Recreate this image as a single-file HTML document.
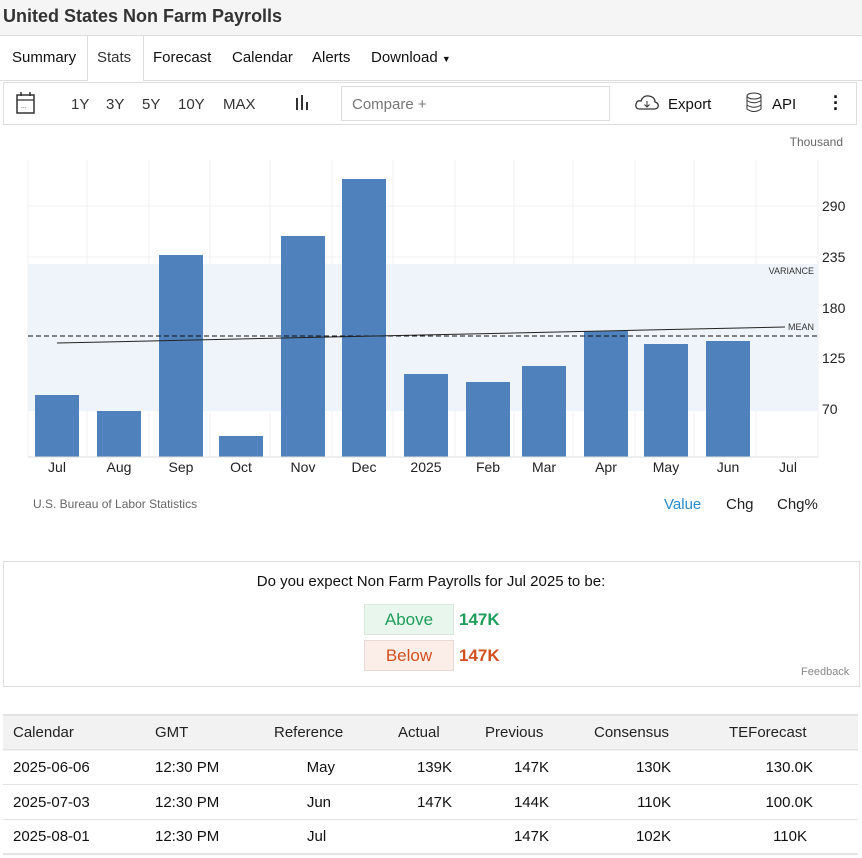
<!DOCTYPE html>
<html><head><meta charset="utf-8"><style>
body{margin:0;width:862px;height:858px;background:#fff;font-family:"Liberation Sans",Arial,sans-serif;color:#111;position:relative;overflow:hidden}
.a{position:absolute;white-space:nowrap}
.t{font-size:15px}
</style></head><body>
<div class="a" style="left:0;top:0;width:862px;height:35px;background:#f5f5f5"></div>
<div class="a" style="left:3px;top:6px;font-size:18px;font-weight:bold;color:#333">United States Non Farm Payrolls</div>
<div class="a" style="left:0;top:35px;width:862px;height:44px;border-top:1px solid #ddd;border-bottom:1px solid #ddd"></div>
<div class="a" style="left:87px;top:36px;width:55px;height:45px;border-left:1px solid #ddd;border-right:1px solid #ddd;background:#fff"></div>
<div class="a t" style="left:12px;top:49px">Summary</div>
<div class="a t" style="left:97px;top:49px;color:#333">Stats</div>
<div class="a t" style="left:153px;top:49px">Forecast</div>
<div class="a t" style="left:232px;top:49px">Calendar</div>
<div class="a t" style="left:312px;top:49px">Alerts</div>
<div class="a t" style="left:371px;top:49px">Download <span style="font-size:9px">▼</span></div>
<div class="a" style="left:3px;top:82px;width:852px;height:41px;border:1px solid #ddd"></div>
<svg class="a" style="left:15px;top:91px" width="22" height="24"><rect x="2" y="4" width="17" height="18" fill="none" stroke="#333" stroke-width="1.5"/><line x1="2" y1="9" x2="19" y2="9" stroke="#333" stroke-width="1.3"/><line x1="6" y1="1" x2="6" y2="5" stroke="#333" stroke-width="1.5"/><line x1="15" y1="1" x2="15" y2="5" stroke="#333" stroke-width="1.5"/><text x="6" y="17" font-size="6" fill="#333">...</text></svg>
<div class="a t" style="left:71px;top:96px;color:#333">1Y</div>
<div class="a t" style="left:106px;top:96px;color:#333">3Y</div>
<div class="a t" style="left:142px;top:96px;color:#333">5Y</div>
<div class="a t" style="left:178px;top:96px;color:#333">10Y</div>
<div class="a t" style="left:223px;top:96px;color:#333">MAX</div>
<svg class="a" style="left:294px;top:94px" width="16" height="18"><rect x="2" y="4" width="2" height="12" fill="#333"/><rect x="7" y="1" width="2" height="15" fill="#333"/><rect x="12" y="8" width="2" height="8" fill="#333"/></svg>
<div class="a" style="left:341px;top:86px;width:267px;height:33px;border:1px solid #ddd"></div>
<div class="a t" style="left:352px;top:96px;color:#777">Compare +</div>
<svg class="a" style="left:634px;top:93px" width="26" height="20"><path d="M6 16 Q1 16 2 11 Q3 7 7 8 Q9 2 15 3 Q21 4 21 9 Q25 10 24 14 Q23 16 20 16 Z" fill="none" stroke="#333" stroke-width="1.3"/><path d="M13 8 V14 M10.5 11.5 L13 14 L15.5 11.5" stroke="#333" fill="none"/></svg>
<div class="a t" style="left:668px;top:96px">Export</div>
<svg class="a" style="left:745px;top:92px" width="18" height="22"><ellipse cx="9" cy="4" rx="7" ry="3" fill="none" stroke="#333"/><path d="M2 4 V17 Q9 22 16 17 V4 M2 8.5 Q9 13 16 8.5 M2 13 Q9 17.5 16 13" fill="none" stroke="#333"/></svg>
<div class="a t" style="left:772px;top:96px">API</div>
<div class="a" style="left:833px;top:94px;font-size:18px;font-weight:bold;line-height:6px">·<br>·<br>·</div>

<svg class="a" style="left:0;top:128px" width="862" height="400" font-family="Liberation Sans, Arial, sans-serif">
<g transform="translate(0,-128)">
<text x="843" y="146" font-size="12" fill="#666" text-anchor="end">Thousand</text>
<g stroke="#f0f0f0" stroke-width="1">
<line x1="28" y1="160" x2="28" y2="457"/><line x1="87" y1="160" x2="87" y2="457"/><line x1="149" y1="160" x2="149" y2="457"/><line x1="210" y1="160" x2="210" y2="457"/><line x1="270" y1="160" x2="270" y2="457"/><line x1="332" y1="160" x2="332" y2="457"/><line x1="393" y1="160" x2="393" y2="457"/><line x1="455" y1="160" x2="455" y2="457"/><line x1="514" y1="160" x2="514" y2="457"/><line x1="573" y1="160" x2="573" y2="457"/><line x1="635" y1="160" x2="635" y2="457"/><line x1="694" y1="160" x2="694" y2="457"/><line x1="756" y1="160" x2="756" y2="457"/><line x1="818" y1="160" x2="818" y2="457"/>
<line x1="28" y1="206" x2="818" y2="206"/><line x1="28" y1="257" x2="818" y2="257"/><line x1="28" y1="308" x2="818" y2="308"/><line x1="28" y1="358" x2="818" y2="358"/><line x1="28" y1="409" x2="818" y2="409"/>
</g>
<rect x="28" y="264" width="790" height="147" fill="#eef4fa"/>
<g fill="#4f81bd">
<rect x="35" y="395" width="44" height="62"/><rect x="97" y="411" width="44" height="46"/><rect x="159" y="255" width="44" height="202"/><rect x="219" y="436" width="44" height="21"/><rect x="281" y="236" width="44" height="221"/><rect x="342" y="179" width="44" height="278"/><rect x="404" y="374" width="44" height="83"/><rect x="466" y="382" width="44" height="75"/><rect x="522" y="366" width="44" height="91"/><rect x="584" y="331" width="44" height="126"/><rect x="644" y="344" width="44" height="113"/><rect x="706" y="341" width="44" height="116"/>
</g>
<line x1="28" y1="336" x2="818" y2="336" stroke="#111" stroke-dasharray="5,3"/>
<line x1="57" y1="343" x2="785" y2="327" stroke="#222" stroke-width="1"/>
<line x1="28" y1="457" x2="818" y2="457" stroke="#ddd"/>
<text x="814" y="274" font-size="9" fill="#333" text-anchor="end">VARIANCE</text>
<text x="814" y="330" font-size="9" fill="#333" text-anchor="end">MEAN</text>
<g font-size="14" fill="#222">
<text x="822" y="211">290</text><text x="822" y="262">235</text><text x="822" y="313">180</text><text x="822" y="363">125</text><text x="822" y="414">70</text>
</g>
<g font-size="14" fill="#222" text-anchor="middle">
<text x="57" y="472">Jul</text><text x="119" y="472">Aug</text><text x="181" y="472">Sep</text><text x="241" y="472">Oct</text><text x="303" y="472">Nov</text><text x="364" y="472">Dec</text><text x="426" y="472">2025</text><text x="488" y="472">Feb</text><text x="544" y="472">Mar</text><text x="606" y="472">Apr</text><text x="666" y="472">May</text><text x="728" y="472">Jun</text><text x="788" y="472">Jul</text>
</g>
<text x="33" y="508" font-size="12" fill="#666">U.S. Bureau of Labor Statistics</text>
<text x="664" y="509" font-size="15" fill="#2a8ccf">Value</text>
<text x="726" y="509" font-size="15" fill="#222">Chg</text>
<text x="777" y="509" font-size="15" fill="#222">Chg%</text>
</g></svg>

<div class="a" style="left:3px;top:561px;width:855px;height:124px;border:1px solid #ddd"></div>
<div class="a t" style="left:0;width:862px;text-align:center;top:573px">Do you expect Non Farm Payrolls for Jul 2025 to be:</div>
<div class="a" style="left:364px;top:604px;width:88px;height:29px;background:#e8f6ee;border:1px solid #d8e8dd;color:#1e9e5a;font-size:17px;text-align:center;line-height:29px">Above</div>
<div class="a" style="left:459px;top:610px;color:#1e9e5a;font-size:17px;font-weight:bold">147K</div>
<div class="a" style="left:364px;top:640px;width:88px;height:29px;background:#fbeee9;border:1px solid #eadad5;color:#d2501e;font-size:17px;text-align:center;line-height:29px">Below</div>
<div class="a" style="left:459px;top:646px;color:#d2501e;font-size:17px;font-weight:bold">147K</div>
<div class="a" style="left:801px;top:666px;font-size:11px;color:#888">Feedback</div>

<div class="a" style="left:3px;top:714px;width:855px;height:35px;background:#f2f2f2;border-top:2px solid #e3e3e3"></div>
<div class="a" style="left:3px;top:784px;width:855px;height:1px;background:#e3e3e3"></div>
<div class="a" style="left:3px;top:819px;width:855px;height:1px;background:#e3e3e3"></div>
<div class="a" style="left:3px;top:853px;width:855px;height:2px;background:#e3e3e3"></div>
<div class="a" style="left:3px;top:749px;width:855px;height:1px;background:#e3e3e3"></div>
<div class="a t" style="left:13px;top:724px;color:#222">Calendar</div>
<div class="a t" style="left:155px;top:724px;color:#222">GMT</div>
<div class="a t" style="left:274px;top:724px;color:#222">Reference</div>
<div class="a t" style="left:398px;top:724px;color:#222">Actual</div>
<div class="a t" style="left:485px;top:724px;color:#222">Previous</div>
<div class="a t" style="left:594px;top:724px;color:#222">Consensus</div>
<div class="a t" style="left:729px;top:724px;color:#222">TEForecast</div>

<div class="a t" style="left:13px;top:759px">2025-06-06</div><div class="a t" style="left:155px;top:759px">12:30 PM</div>
<div class="a t" style="left:235px;width:100px;text-align:right;top:759px">May</div><div class="a t" style="left:352px;width:100px;text-align:right;top:759px">139K</div><div class="a t" style="left:449px;width:100px;text-align:right;top:759px">147K</div><div class="a t" style="left:571px;width:100px;text-align:right;top:759px">130K</div><div class="a t" style="left:713px;width:100px;text-align:right;top:759px">130.0K</div>

<div class="a t" style="left:13px;top:794px">2025-07-03</div><div class="a t" style="left:155px;top:794px">12:30 PM</div>
<div class="a t" style="left:235px;width:96px;text-align:right;top:794px">Jun</div><div class="a t" style="left:352px;width:100px;text-align:right;top:794px">147K</div><div class="a t" style="left:449px;width:100px;text-align:right;top:794px">144K</div><div class="a t" style="left:571px;width:100px;text-align:right;top:794px">110K</div><div class="a t" style="left:713px;width:100px;text-align:right;top:794px">100.0K</div>

<div class="a t" style="left:13px;top:828px">2025-08-01</div><div class="a t" style="left:155px;top:828px">12:30 PM</div>
<div class="a t" style="left:307px;top:828px">Jul</div><div class="a t" style="left:449px;width:100px;text-align:right;top:828px">147K</div><div class="a t" style="left:571px;width:100px;text-align:right;top:828px">102K</div><div class="a t" style="left:707px;width:100px;text-align:right;top:828px">110K</div>
</body></html>
